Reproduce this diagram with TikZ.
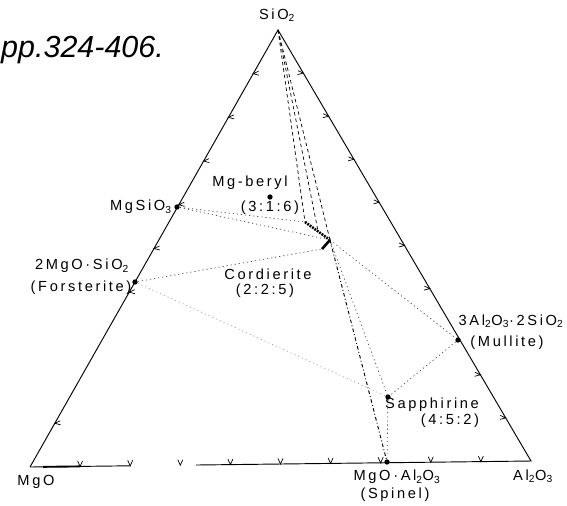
\documentclass[tikz,border=0pt]{standalone}
\usepackage{fontspec}
\setmainfont{Liberation Sans}
\newfontfamily\lblfont[LetterSpace=18]{Liberation Sans}
\usetikzlibrary{calc}

\begin{document}
\begin{tikzpicture}[x=0.3mm, y=-0.3mm,
    edge/.style={line width=0.8pt},
    tie/.style={line width=0.6pt, dash pattern=on 1pt off 2.5pt, black!70},
    ray/.style={line width=0.6pt, dash pattern=on 3pt off 2.5pt},
    spine/.style={line width=0.8pt, dash pattern=on 3pt off 2pt on 0.8pt off 2pt},
    phase/.style={circle, fill=black, inner sep=0pt, minimum size=4.5pt},
    lbl/.style={font=\lblfont\fontsize{12.5}{14}\selectfont, inner sep=1pt},
    tickmark/.style={line width=0.6pt}
  ]
  \useasboundingbox (0,0) rectangle (567,505);

  % corners of the triangle
  \coordinate (SiO2) at (278,30);
  \coordinate (MgO) at (30,467);
  \coordinate (Al2O3) at (531,461);

  % outline, bottom side broken
  \draw[edge] (MgO) -- (SiO2) -- (Al2O3) -- ($(MgO)!0.331!(Al2O3)$);
  \draw[edge] (MgO) -- ($(MgO)!0.2!(Al2O3)$);
  \draw[line width=1.6pt] ($(MgO)!0.026!(Al2O3)$) -- ($(MgO)!0.1!(Al2O3)$);

  % 10 % marks
  \foreach \t in {0.1,0.2,0.3,0.4,0.5,0.6,0.9}
    \draw[tickmark] ($(SiO2)!\t!(MgO)$) ++(5.4,-2.5) -- ++(-5.4,2.5) -- ++(5.8,1.5);
  \foreach \t in {0.1,0.2,0.3,0.4,0.5,0.6,0.8,0.9}
    \draw[tickmark] ($(SiO2)!\t!(Al2O3)$) ++(-5.4,-2.5) -- ++(5.4,2.5) -- ++(-5.8,1.5);
  \foreach \t in {0.1,0.2,...,0.9}
    \draw[tickmark] ($(MgO)!\t!(Al2O3)$) ++(-2.5,-5.5) -- ++(2.5,5.5) -- ++(2.5,-5.5);

  % compounds
  \node[phase] (en) at (177,207) {};
  \node[phase] (fo) at (135,282) {};
  \node[phase] (mb) at (270,197) {};
  \node[phase] (mu) at (458,340) {};
  \node[phase] (sa) at (388,397) {};
  \node[phase] (sp) at (387,462) {};
  \coordinate (cdA) at (305,222);
  \coordinate (cdB) at (318,231);
  \coordinate (cd) at (330,240);
  \coordinate (cdD) at (322,249);

  % cordierite range
  \draw[line width=2.2pt, dash pattern=on 1.6pt off 0.9pt] (cdA) -- (cd);
  \draw[line width=2.2pt] (cd) -- (cdD);

  % joins
  \foreach \e in {cdA,cdB,cd}
    \draw[ray] (SiO2) -- (\e);
  \draw[tie] (en) -- (cdA);
  \draw[tie] (en) -- (cd);
  \draw[tie] (fo) -- (cdD);
  \draw[tie, black!35] (fo) -- (sa);
  \draw[tie] (cd) -- (mu);
  \draw[tie] (cd) -- (sa);
  \draw[tie] (mu) -- (sa);
  \draw[tie] (sa) -- (sp);
  \draw[spine] (cd) -- (sp);

  % labels
  \node[font=\itshape\fontsize{26}{30}\selectfont, anchor=base west, inner sep=0pt]
    (ref) at (1,57) {pp.324-406.};
  \node[lbl] (lSiO2) at (277,15) {SiO\textsubscript{2}};
  \node[lbl] (lMgO) at (36,482) {MgO};
  \node[lbl] (lAl2O3) at (533,476) {Al\textsubscript{2}O\textsubscript{3}};
  \node[lbl, anchor=east] (len) at (173,207) {MgSiO\textsubscript{3}};
  \node[lbl] (lfo) at (82,266) {2MgO·SiO\textsubscript{2}};
  \node[lbl] (lfoN) at (81,288) {(Forsterite)};
  \node[lbl] (lmb) at (250,183) {Mg-beryl};
  \node[lbl] (lmbR) at (270,208) {(3:1:6)};
  \node[lbl] (lcd) at (268,274) {Cordierite};
  \node[lbl] (lcdR) at (265,291) {(2:2:5)};
  \node[lbl] (lmu) at (511,321) {3Al\textsubscript{2}O\textsubscript{3}·2SiO\textsubscript{2}};
  \node[lbl] (lmuN) at (507,343) {(Mullite)};
  \node[lbl] (lsa) at (432,405) {Sapphirine};
  \node[lbl] (lsaR) at (450,421) {(4:5:2)};
  \node[lbl] (lsp) at (397,477) {MgO·Al\textsubscript{2}O\textsubscript{3}};
  \node[lbl] (lspN) at (395,495) {(Spinel)};
\end{tikzpicture}
\end{document}
